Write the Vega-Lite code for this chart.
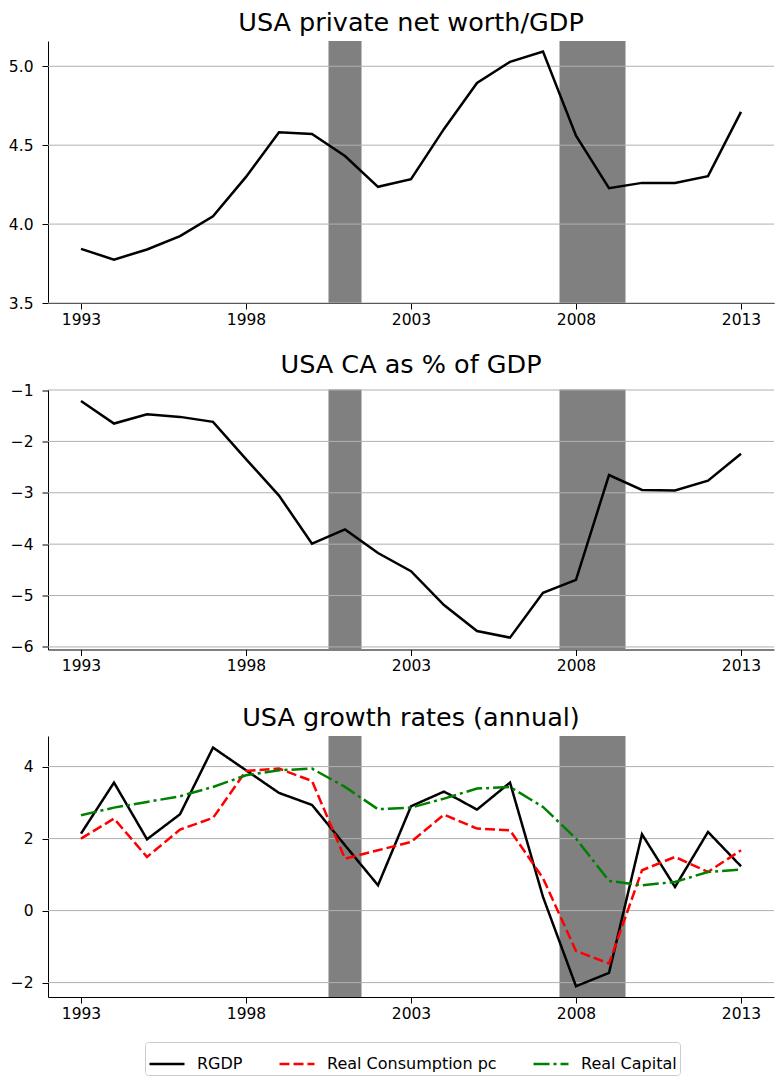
{
  "$schema": "https://vega.github.io/schema/vega-lite/v6.json",
  "padding": {"top": 10, "left": 8, "right": 0, "bottom": 0},
  "background": "white",
  "bounds": "flush",
  "spacing": 86.5,
  "datasets": {
    "rec": [{"start": 2000.5, "end": 2001.5}, {"start": 2007.5, "end": 2009.5}],
    "grid1": [{"value": 3.5}, {"value": 4.0}, {"value": 4.5}, {"value": 5.0}],
    "grid2": [{"value": -1}, {"value": -2}, {"value": -3}, {"value": -4}, {"value": -5}, {"value": -6}],
    "grid3": [{"value": -2}, {"value": 0}, {"value": 2}, {"value": 4}],
    "nw": [
      {"year": 1993, "value": 3.843}, {"year": 1994, "value": 3.775}, {"year": 1995, "value": 3.839},
      {"year": 1996, "value": 3.924}, {"year": 1997, "value": 4.049}, {"year": 1998, "value": 4.299},
      {"year": 1999, "value": 4.582}, {"year": 2000, "value": 4.571}, {"year": 2001, "value": 4.431},
      {"year": 2002, "value": 4.236}, {"year": 2003, "value": 4.284}, {"year": 2004, "value": 4.603},
      {"year": 2005, "value": 4.894}, {"year": 2006, "value": 5.028}, {"year": 2007, "value": 5.093},
      {"year": 2008, "value": 4.560}, {"year": 2009, "value": 4.227}, {"year": 2010, "value": 4.261},
      {"year": 2011, "value": 4.261}, {"year": 2012, "value": 4.304}, {"year": 2013, "value": 4.711}
    ],
    "ca": [
      {"year": 1993, "value": -1.213}, {"year": 1994, "value": -1.652}, {"year": 1995, "value": -1.472},
      {"year": 1996, "value": -1.523}, {"year": 1997, "value": -1.620}, {"year": 1998, "value": -2.344},
      {"year": 1999, "value": -3.054}, {"year": 2000, "value": -3.991}, {"year": 2001, "value": -3.713},
      {"year": 2002, "value": -4.172}, {"year": 2003, "value": -4.527}, {"year": 2004, "value": -5.186},
      {"year": 2005, "value": -5.690}, {"year": 2006, "value": -5.819}, {"year": 2007, "value": -4.947},
      {"year": 2008, "value": -4.695}, {"year": 2009, "value": -2.654}, {"year": 2010, "value": -2.944},
      {"year": 2011, "value": -2.957}, {"year": 2012, "value": -2.764}, {"year": 2013, "value": -2.240}
    ],
    "growth": [
      {"year": 1993, "series": "RGDP", "value": 2.139}, {"year": 1994, "series": "RGDP", "value": 3.556},
      {"year": 1995, "series": "RGDP", "value": 1.981}, {"year": 1996, "series": "RGDP", "value": 2.676},
      {"year": 1997, "series": "RGDP", "value": 4.528}, {"year": 1998, "series": "RGDP", "value": 3.898},
      {"year": 1999, "series": "RGDP", "value": 3.269}, {"year": 2000, "series": "RGDP", "value": 2.935},
      {"year": 2001, "series": "RGDP", "value": 1.815}, {"year": 2002, "series": "RGDP", "value": 0.704},
      {"year": 2003, "series": "RGDP", "value": 2.898}, {"year": 2004, "series": "RGDP", "value": 3.306},
      {"year": 2005, "series": "RGDP", "value": 2.806}, {"year": 2006, "series": "RGDP", "value": 3.556},
      {"year": 2007, "series": "RGDP", "value": 0.380}, {"year": 2008, "series": "RGDP", "value": -2.102},
      {"year": 2009, "series": "RGDP", "value": -1.731}, {"year": 2010, "series": "RGDP", "value": 2.120},
      {"year": 2011, "series": "RGDP", "value": 0.657}, {"year": 2012, "series": "RGDP", "value": 2.185},
      {"year": 2013, "series": "RGDP", "value": 1.231},
      {"year": 1993, "series": "Real Consumption pc", "value": 2.0}, {"year": 1994, "series": "Real Consumption pc", "value": 2.556},
      {"year": 1995, "series": "Real Consumption pc", "value": 1.491}, {"year": 1996, "series": "Real Consumption pc", "value": 2.25},
      {"year": 1997, "series": "Real Consumption pc", "value": 2.574}, {"year": 1998, "series": "Real Consumption pc", "value": 3.88},
      {"year": 1999, "series": "Real Consumption pc", "value": 3.944}, {"year": 2000, "series": "Real Consumption pc", "value": 3.602},
      {"year": 2001, "series": "Real Consumption pc", "value": 1.444}, {"year": 2002, "series": "Real Consumption pc", "value": 1.676},
      {"year": 2003, "series": "Real Consumption pc", "value": 1.907}, {"year": 2004, "series": "Real Consumption pc", "value": 2.667},
      {"year": 2005, "series": "Real Consumption pc", "value": 2.278}, {"year": 2006, "series": "Real Consumption pc", "value": 2.231},
      {"year": 2007, "series": "Real Consumption pc", "value": 0.9}, {"year": 2008, "series": "Real Consumption pc", "value": -1.12},
      {"year": 2009, "series": "Real Consumption pc", "value": -1.47}, {"year": 2010, "series": "Real Consumption pc", "value": 1.12},
      {"year": 2011, "series": "Real Consumption pc", "value": 1.49}, {"year": 2012, "series": "Real Consumption pc", "value": 1.074},
      {"year": 2013, "series": "Real Consumption pc", "value": 1.676},
      {"year": 1993, "series": "Real Capital", "value": 2.648}, {"year": 1994, "series": "Real Capital", "value": 2.861},
      {"year": 1995, "series": "Real Capital", "value": 3.019}, {"year": 1996, "series": "Real Capital", "value": 3.176},
      {"year": 1997, "series": "Real Capital", "value": 3.435}, {"year": 1998, "series": "Real Capital", "value": 3.759},
      {"year": 1999, "series": "Real Capital", "value": 3.898}, {"year": 2000, "series": "Real Capital", "value": 3.944},
      {"year": 2001, "series": "Real Capital", "value": 3.435}, {"year": 2002, "series": "Real Capital", "value": 2.815},
      {"year": 2003, "series": "Real Capital", "value": 2.861}, {"year": 2004, "series": "Real Capital", "value": 3.111},
      {"year": 2005, "series": "Real Capital", "value": 3.389}, {"year": 2006, "series": "Real Capital", "value": 3.435},
      {"year": 2007, "series": "Real Capital", "value": 2.88}, {"year": 2008, "series": "Real Capital", "value": 2.0},
      {"year": 2009, "series": "Real Capital", "value": 0.824}, {"year": 2010, "series": "Real Capital", "value": 0.704},
      {"year": 2011, "series": "Real Capital", "value": 0.796}, {"year": 2012, "series": "Real Capital", "value": 1.074},
      {"year": 2013, "series": "Real Capital", "value": 1.139}
    ]
  },
  "vconcat": [
    {
      "title": "USA private net worth/GDP",
      "width": 726,
      "height": 262,
      "layer": [
        {
          "data": {"name": "rec"},
          "mark": {"type": "rect", "color": "#808080"},
          "encoding": {
            "x": {"field": "start", "type": "quantitative", "title": null, "scale": {"domain": [1992, 2014], "nice": false, "zero": false}, "axis": {"values": [1993, 1998, 2003, 2008, 2013], "format": "d"}},
            "x2": {"field": "end"}
          }
        },
        {
          "data": {"name": "grid1"},
          "mark": {"type": "rule", "color": "#b0b0b0", "strokeWidth": 1},
          "encoding": {
            "y": {"field": "value", "type": "quantitative", "title": null, "scale": {"domain": [3.5, 5.16], "nice": false, "zero": false}, "axis": {"values": [3.5, 4.0, 4.5, 5.0], "format": ".1f"}}
          }
        },
        {
          "data": {"name": "nw"},
          "mark": {"type": "line", "color": "black", "strokeWidth": 2.5},
          "encoding": {
            "x": {"field": "year", "type": "quantitative", "title": null, "scale": {"domain": [1992, 2014], "nice": false, "zero": false}, "axis": {"values": [1993, 1998, 2003, 2008, 2013], "format": "d"}},
            "y": {"field": "value", "type": "quantitative", "title": null, "scale": {"domain": [3.5, 5.16], "nice": false, "zero": false}, "axis": {"values": [3.5, 4.0, 4.5, 5.0], "format": ".1f"}}
          }
        }
      ]
    },
    {
      "title": "USA CA as % of GDP",
      "width": 726,
      "height": 260,
      "layer": [
        {
          "data": {"name": "rec"},
          "mark": {"type": "rect", "color": "#808080"},
          "encoding": {
            "x": {"field": "start", "type": "quantitative", "title": null, "scale": {"domain": [1992, 2014], "nice": false, "zero": false}, "axis": {"values": [1993, 1998, 2003, 2008, 2013], "format": "d"}},
            "x2": {"field": "end"}
          }
        },
        {
          "data": {"name": "grid2"},
          "mark": {"type": "rule", "color": "#b0b0b0", "strokeWidth": 1},
          "encoding": {
            "y": {"field": "value", "type": "quantitative", "title": null, "scale": {"domain": [-6.05, -0.99], "nice": false, "zero": false}, "axis": {"values": [-6, -5, -4, -3, -2, -1], "format": "d"}}
          }
        },
        {
          "data": {"name": "ca"},
          "mark": {"type": "line", "color": "black", "strokeWidth": 2.5},
          "encoding": {
            "x": {"field": "year", "type": "quantitative", "title": null, "scale": {"domain": [1992, 2014], "nice": false, "zero": false}, "axis": {"values": [1993, 1998, 2003, 2008, 2013], "format": "d"}},
            "y": {"field": "value", "type": "quantitative", "title": null, "scale": {"domain": [-6.05, -0.99], "nice": false, "zero": false}, "axis": {"values": [-6, -5, -4, -3, -2, -1], "format": "d"}}
          }
        }
      ]
    },
    {
      "title": "USA growth rates (annual)",
      "width": 726,
      "height": 261,
      "layer": [
        {
          "data": {"name": "rec"},
          "mark": {"type": "rect", "color": "#808080"},
          "encoding": {
            "x": {"field": "start", "type": "quantitative", "title": null, "scale": {"domain": [1992, 2014], "nice": false, "zero": false}, "axis": {"values": [1993, 1998, 2003, 2008, 2013], "format": "d"}},
            "x2": {"field": "end"}
          }
        },
        {
          "data": {"name": "grid3"},
          "mark": {"type": "rule", "color": "#b0b0b0", "strokeWidth": 1},
          "encoding": {
            "y": {"field": "value", "type": "quantitative", "title": null, "scale": {"domain": [-2.4, 4.85], "nice": false, "zero": false}, "axis": {"values": [-2, 0, 2, 4], "format": "d"}}
          }
        },
        {
          "data": {"name": "growth"},
          "mark": {"type": "line", "strokeWidth": 2.5},
          "encoding": {
            "x": {"field": "year", "type": "quantitative", "title": null, "scale": {"domain": [1992, 2014], "nice": false, "zero": false}, "axis": {"values": [1993, 1998, 2003, 2008, 2013], "format": "d"}},
            "y": {"field": "value", "type": "quantitative", "title": null, "scale": {"domain": [-2.4, 4.85], "nice": false, "zero": false}, "axis": {"values": [-2, 0, 2, 4], "format": "d"}},
            "color": {"field": "series", "type": "nominal", "title": null, "scale": {"domain": ["RGDP", "Real Consumption pc", "Real Capital"], "range": ["#000000", "#ff0000", "#008000"]}, "legend": {"orient": "none", "legendX": 97, "legendY": 1001, "direction": "horizontal"}},
            "strokeDash": {"field": "series", "type": "nominal", "title": null, "scale": {"domain": ["RGDP", "Real Consumption pc", "Real Capital"], "range": [[1, 0], [10, 4], [16, 4, 3, 4]]}, "legend": {"orient": "none", "legendX": 97, "legendY": 1001, "direction": "horizontal"}}
          }
        }
      ]
    }
  ],
  "config": {
    "view": {"stroke": null},
    "font": "DejaVu Sans",
    "axis": {
      "grid": false,
      "labelFont": "DejaVu Sans",
      "labelFontSize": 15.5,
      "labelColor": "black",
      "domainColor": "black",
      "domainWidth": 1,
      "tickColor": "black",
      "tickWidth": 1,
      "tickSize": 6,
      "labelPadding": 3,
      "labelFlush": false
    },
    "axisY": {"labelPadding": 9},
    "title": {"font": "DejaVu Sans", "fontSize": 25.5, "fontWeight": "normal", "color": "black", "offset": 5, "anchor": "middle"},
    "legend": {
      "symbolType": "stroke",
      "symbolSize": 1225,
      "symbolStrokeWidth": 2.5,
      "labelFont": "DejaVu Sans",
      "labelFontSize": 16,
      "labelColor": "black",
      "labelLimit": 400,
      "labelOffset": 11,
      "columnPadding": 31,
      "strokeColor": "#cccccc",
      "fillColor": "white",
      "cornerRadius": 3,
      "padding": 3
    }
  }
}
